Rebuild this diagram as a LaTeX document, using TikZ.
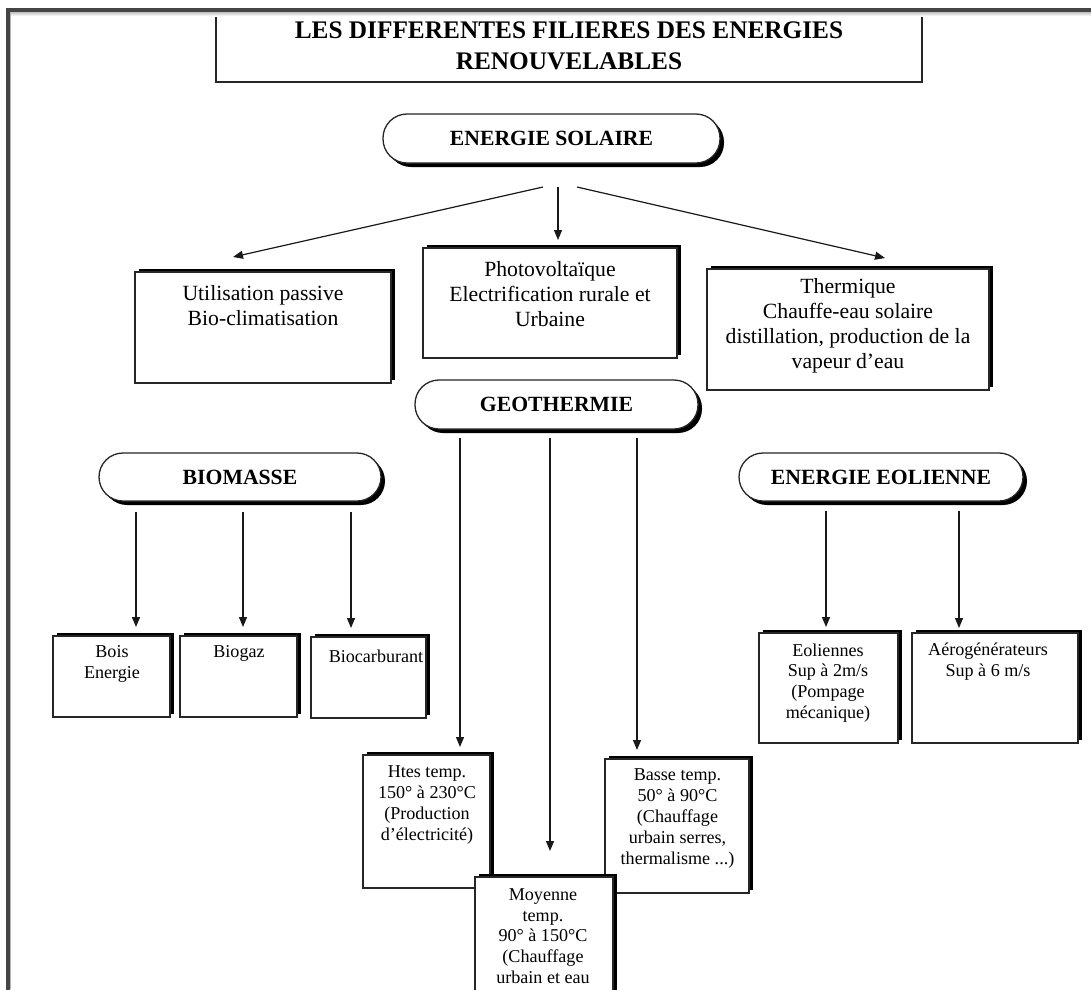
\documentclass[tikz,border=0pt]{standalone}
\usepackage{fontspec}
\setmainfont{Liberation Serif}
\usetikzlibrary{arrows.meta,shadows,calc}
\definecolor{framegray}{HTML}{454545}
\begin{document}
\begin{tikzpicture}[x=1pt,y=-1pt]
\tikzset{
  box/.style={draw=black!85, line width=1.3pt, fill=white, rectangle, inner sep=0pt, outer sep=0pt,
    anchor=north west, drop shadow={shadow xshift=4pt, shadow yshift=3pt, fill=black, opacity=1}},
  pill/.style={draw=black!85, line width=1.3pt, fill=white, rectangle, rounded corners=24pt,
    inner sep=0pt, outer sep=0pt, font=\fontsize{21.7}{25}\selectfont\bfseries,
    drop shadow={shadow xshift=4pt, shadow yshift=-4pt, fill=black, opacity=1}},
  arr/.style={-{Triangle[length=10pt,width=8pt]}, line width=1.2pt, black!90},
  big/.style={font=\fontsize{21.7}{25}\selectfont, align=center, inner sep=0pt},
  small/.style={font=\fontsize{18.1}{20.8}\selectfont, align=center, inner sep=0pt},
}
\useasboundingbox (0,0) rectangle (1091,989);
\clip (0,0) rectangle (1091,989);
\fill[white] (0,0) rectangle (1091,989);

% title
\node[draw=black!85, line width=1.5pt, rectangle, inner sep=0pt, minimum width=706pt, minimum height=72pt,
  align=center, font=\fontsize{25.3}{31}\selectfont\bfseries] (title) at (569,46)
  {LES DIFFERENTES FILIERES DES ENERGIES\\RENOUVELABLES};

% pills
\node[pill, minimum width=337pt, minimum height=49pt] (solar) at (551.5,138.5) {ENERGIE SOLAIRE};
\node[pill, minimum width=283pt, minimum height=49pt] (geo) at (556.5,404.5) {GEOTHERMIE};
\node[pill, minimum width=282pt, minimum height=48pt] (bio) at (240,477) {BIOMASSE};
\node[pill, minimum width=284pt, minimum height=48pt] (eol) at (881,477) {ENERGIE EOLIENNE};

% solar boxes
\node[box, minimum width=256pt, minimum height=111pt] (util) at (135,272) {};
\node[big] (utilT) at (263,305.5) {Utilisation passive\\Bio-climatisation};
\node[box, minimum width=254pt, minimum height=110pt] (photo) at (423,248) {};
\node[big] (photoT) at (550,294) {Photovoltaïque\\Electrification rurale et\\Urbaine};
\node[box, minimum width=282pt, minimum height=121pt] (therm) at (707,269) {};
\node[big] (thermT) at (848,325.5) {Thermique\\Chauffe-eau solaire\\distillation, production de la\\vapeur d’eau};

% biomass boxes
\node[box, minimum width=117pt, minimum height=81pt] (bois) at (53,636) {};
\node[small] (boisT) at (112,664) {Bois\\Energie};
\node[box, minimum width=117pt, minimum height=81pt] (biogaz) at (180,636) {};
\node[small] (biogazT) at (239,653) {Biogaz};
\node[box, minimum width=115pt, minimum height=81pt] (biocarb) at (311,637) {};
\node[small] (biocarbT) at (376,656) {Biocarburant};

% wind boxes
\node[box, minimum width=139pt, minimum height=110pt] (eolb) at (759,633) {};
\node[small] (eolbT) at (828,683) {Eoliennes\\Sup à 2m/s\\(Pompage\\mécanique)};
\node[box, minimum width=166pt, minimum height=110pt] (aero) at (912,633) {};
\node[small] (aeroT) at (988,662) {Aérogénérateurs\\Sup à 6 m/s};

% geothermal boxes
\node[box, minimum width=127pt, minimum height=133pt] (htes) at (363,755) {};
\node[small] (htesT) at (427,805) {Htes temp.\\150° à 230°C\\(Production\\d’électricité)};
\node[box, minimum width=144pt, minimum height=134pt] (basse) at (605,759) {};
\node[small] (basseT) at (677.5,818.5) {Basse temp.\\50° à 90°C\\(Chauffage\\urbain serres,\\thermalisme ...)};
\node[box, minimum width=138pt, minimum height=140pt] (moy) at (475,877) {};
\node[small] (moyT) at (543,936) {Moyenne\\temp.\\90° à 150°C\\(Chauffage\\urbain et eau};

% arrows
\draw[arr] ([xshift=-8.5pt,yshift=-24pt]solar.south) -- ([xshift=-30pt,yshift=15pt]util.north);
\draw[arr] ([xshift=6.5pt,yshift=-24pt]solar.south) -- ([xshift=8pt,yshift=8pt]photo.north);
\draw[arr] ([xshift=25.5pt,yshift=-24pt]solar.south) -- ([xshift=37pt,yshift=11pt]therm.north);

\draw[arr] ([xshift=-96.5pt,yshift=-9pt]geo.south) -- ([xshift=33.5pt,yshift=8pt]htes.north);
\draw[arr] ([xshift=-6.5pt,yshift=-9pt]geo.south) -- ([xshift=6pt,yshift=26pt]moy.north);
\draw[arr] ([xshift=80.5pt,yshift=-9pt]geo.south) -- ([xshift=-40pt,yshift=9pt]basse.north);

\draw[arr] ([xshift=-104pt,yshift=-11pt]bio.south) -- ([xshift=24.5pt,yshift=9pt]bois.north);
\draw[arr] ([xshift=3pt,yshift=-11pt]bio.south) -- ([xshift=4.5pt,yshift=9pt]biogaz.north);
\draw[arr] ([xshift=111pt,yshift=-11pt]bio.south) -- ([xshift=-17.5pt,yshift=9pt]biocarb.north);

\draw[arr] ([xshift=-55pt,yshift=-10pt]eol.south) -- ([xshift=-2.5pt,yshift=6pt]eolb.north);
\draw[arr] ([xshift=78pt,yshift=-10pt]eol.south) -- ([xshift=-36pt,yshift=5pt]aero.north);

% page frame
\shade[top color=black!30, bottom color=white] (10,11) rectangle (1091,16);
\draw[gray!60, line width=1pt] (10.5,11) -- (10.5,989);
\draw[framegray, line width=4pt] (8,991) -- (8,9.5) -- (1093,9.5);
\end{tikzpicture}
\end{document}
